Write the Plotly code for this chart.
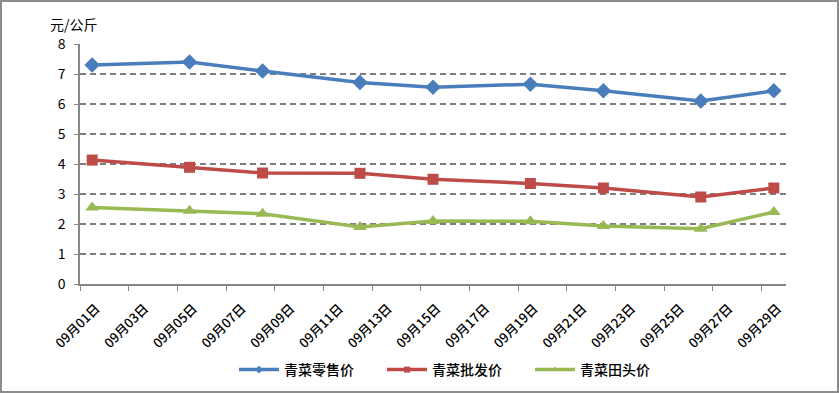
import plotly.graph_objects as go

days = [1, 5, 8, 12, 15, 19, 22, 26, 29]
retail = [7.30, 7.40, 7.10, 6.72, 6.56, 6.66, 6.44, 6.10, 6.44]
wholesale = [4.13, 3.89, 3.70, 3.69, 3.49, 3.35, 3.20, 2.90, 3.20]
farm = [2.55, 2.44, 2.34, 1.90, 2.10, 2.09, 1.93, 1.84, 2.40]
tick_days = list(range(1, 30, 2))
tick_labels = [f"09月{d:02d}日" for d in tick_days]
y_ticks = list(range(0, 9))

W, H = 839, 393
L, R, T, B = 80, 53, 44, 109
PW, PH = W - L - R, H - T - B

# Excel date axis: each point centred within its day
xpos = [d + 0.5 for d in days]

font = "Noto Sans CJK SC, Microsoft YaHei, sans-serif"

fig = go.Figure()
series = [
    ("青菜零售价", retail, "#4A7EBB", "diamond", 12),
    ("青菜批发价", wholesale, "#BE4B48", "square", 11),
    ("青菜田头价", farm, "#98B954", "triangle-up", 12),
]
for name, vals, col, sym, ms in series:
    fig.add_trace(go.Scatter(
        x=xpos, y=vals, name=name, mode="lines+markers", showlegend=False,
        line=dict(color=col, width=3.5),
        marker=dict(symbol=sym, size=ms, color=col),
    ))
# legend entries with small markers, as in the original
for name, vals, col, sym, ms in series:
    fig.add_trace(go.Scatter(
        x=[None], y=[None], name=name, mode="lines+markers",
        line=dict(color=col, width=3.5),
        marker=dict(symbol=sym, size=6, color=col),
    ))

fig.update_layout(
    width=W, height=H,
    margin=dict(l=L, r=R, t=T, b=B, autoexpand=False),
    paper_bgcolor="white", plot_bgcolor="white",
    font=dict(family=font, size=12, color="#000"),
    showlegend=True,
    legend=dict(orientation="h", x=(456 - L) / PW, xanchor="center",
                y=(T + PH - 370) / PH, yanchor="middle",
                font=dict(family=font, size=14, color="#000", weight=500),
                itemwidth=40, entrywidth=93, bgcolor="rgba(0,0,0,0)"),
    annotations=[dict(text="元/公斤", xref="paper", yref="paper",
                      x=(48 - L) / PW, y=(T + PH - 24) / PH,
                      xanchor="left", yanchor="middle", showarrow=False,
                      font=dict(family=font, size=14, color="#000"))],
    shapes=[dict(type="rect", xref="paper", yref="paper",
                 x0=(1 - L) / PW, x1=(W - 1 - L) / PW,
                 y0=-(B - 1) / PH, y1=(PH + T - 1) / PH,
                 line=dict(color="#8c8c8c", width=2))],
)
fig.update_xaxes(
    range=[1, 30], tickmode="array", tickvals=tick_days, ticktext=tick_labels,
    tickangle=-45, ticks="outside", ticklen=5, tickcolor="#868686",
    showline=True, linecolor="#868686", linewidth=1.5, showgrid=False,
    zeroline=False, automargin=False,
    ticklabelshift=16, ticklabelstandoff=5,
    tickfont=dict(family=font, size=13, color="#000", weight=500),
)
fig.update_yaxes(
    range=[0, 8], tickmode="array", tickvals=y_ticks,
    ticks="outside", ticklen=4, tickcolor="#868686",
    showline=True, linecolor="#868686", linewidth=1.5,
    showgrid=True, gridcolor="#7f7f7f", griddash="6px,4px", gridwidth=1.5,
    zeroline=False, automargin=False,
    tickfont=dict(family=font, size=14, color="#000"),
    ticklabelstandoff=6,
)
fig.write_html("out.html", config={"displayModeBar": False},
               post_script="document.body.style.margin='0';")
